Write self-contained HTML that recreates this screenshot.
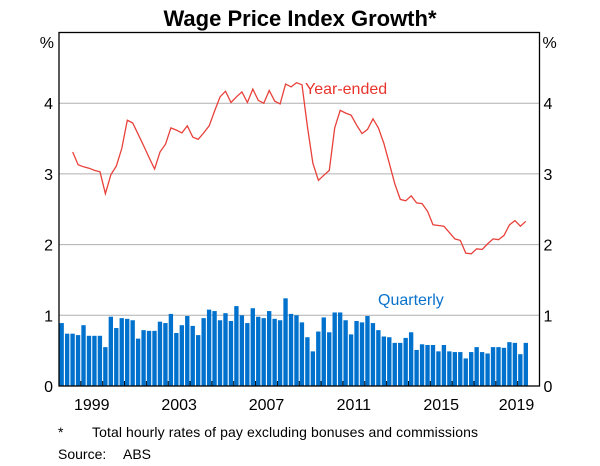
<!DOCTYPE html>
<html><head><meta charset="utf-8"><style>
body{margin:0;background:#fff;}
svg{display:block;font-family:"Liberation Sans",Arial,sans-serif;}
</style></head><body>
<svg id="chart" width="600" height="466" viewBox="0 0 600 466">
<text x="300" y="26" text-anchor="middle" font-size="22" font-weight="bold">Wage Price Index Growth*</text>
<g id="grid"></g><g id="bars"></g><g id="line"></g><g id="axes"></g>
<text x="305" y="94" font-size="16" fill="#e8342c">Year-ended</text>
<text x="378" y="305" font-size="16" fill="#0a72cc">Quarterly</text>
<text x="58" y="437" font-size="14">*</text>
<text x="92" y="437" font-size="14" textLength="386">Total hourly rates of pay excluding bonuses and commissions</text>
<text x="58" y="459" font-size="14">Source:</text>
<text x="123" y="459" font-size="14">ABS</text>
</svg>
<script>
const startYear = 1998;
const yTicks = [0,1,2,3,4];
const xTickLabels = [1999,2003,2007,2011,2015,2019];
const quarterly = [0.89,0.74,0.74,0.72,0.86,0.71,0.71,0.71,0.55,0.98,0.82,0.96,0.95,0.93,0.67,0.79,0.78,0.78,0.91,0.89,1.02,0.75,0.86,0.99,0.85,0.72,0.96,1.08,1.06,0.93,1.03,0.92,1.13,1.00,0.89,1.10,0.98,0.96,1.06,0.95,0.93,1.24,1.02,1.00,0.90,0.69,0.49,0.77,0.97,0.76,1.04,1.04,0.93,0.73,0.92,0.90,0.99,0.89,0.79,0.70,0.69,0.61,0.61,0.68,0.76,0.51,0.59,0.58,0.58,0.49,0.58,0.49,0.48,0.48,0.39,0.48,0.55,0.48,0.46,0.55,0.55,0.54,0.62,0.61,0.45,0.61];
const yearEnded = [null,null,3.31,3.13,3.10,3.08,3.05,3.03,2.72,2.99,3.11,3.36,3.76,3.72,3.56,3.40,3.23,3.07,3.31,3.42,3.65,3.62,3.58,3.68,3.52,3.49,3.58,3.68,3.89,4.09,4.17,4.01,4.09,4.16,4.01,4.20,4.04,4.00,4.18,4.03,3.99,4.27,4.23,4.29,4.26,3.67,3.15,2.91,2.98,3.05,3.65,3.90,3.86,3.83,3.69,3.57,3.63,3.78,3.65,3.43,3.15,2.86,2.64,2.62,2.69,2.59,2.58,2.47,2.28,2.27,2.26,2.17,2.08,2.06,1.88,1.87,1.94,1.93,2.01,2.08,2.07,2.13,2.28,2.34,2.26,2.33];

const L=59,R=539.5,T=32.5,B=386,years=22;
const NS="http://www.w3.org/2000/svg";
const xYear=t=>L+(t-startYear)*(R-L)/years;
const y=v=>B-v*(B-T)/5;
function mk(tag,attrs,parent){const e=document.createElementNS(NS,tag);for(const k in attrs)e.setAttribute(k,attrs[k]);parent.appendChild(e);return e;}
const g=id=>document.getElementById(id);

yTicks.forEach(v=>{
  if(v>0){const gl=mk('line',{x1:L,x2:R,y1:y(v),y2:y(v),stroke:'#b0b0b0','stroke-width':1},g('grid'));
  
  }
  const tl=mk('text',{x:L-6,y:y(v)+6,'text-anchor':'end','font-size':16},g('axes'));tl.textContent=v;
  
  
  const tr=mk('text',{x:R+4,y:y(v)+6,'font-size':16},g('axes'));tr.textContent=v;
  
  
});
const qw=(R-L)/years/4;
quarterly.forEach((v,i)=>{
  const x=xYear(startYear+i/4);
  const r=mk('rect',{x:x+0.5,y:y(v),width:qw-1.1,height:B-y(v),fill:'#0072ce'},g('bars'));
  
  
});
let d='';
yearEnded.forEach((v,i)=>{if(v==null)return;const x=xYear(startYear+i/4)+qw/2;d+=(d?'L':'M')+x.toFixed(1)+','+y(v).toFixed(1);});
const p=mk('path',{d:d,fill:'none',stroke:'#e8413a','stroke-width':1.3},g('line'));


for(let yr=startYear+1;yr<startYear+years;yr++){
  const t=mk('line',{x1:xYear(yr),x2:xYear(yr),y1:B,y2:B-5,stroke:'#000','stroke-width':1},g('axes'));
  
  
}
xTickLabels.forEach(yr=>{
  let cx=xYear(yr+0.5);
  if(cx>R-17) cx=R-23;
  const t=mk('text',{x:cx,y:410,'text-anchor':'middle','font-size':16},g('axes'));t.textContent=yr;
  
  
});
const f=mk('rect',{x:L,y:T,width:R-L,height:B-T,fill:'none',stroke:'#000','stroke-width':1.3},g('axes'));


const pl=mk('text',{x:L-5,y:48,'text-anchor':'end','font-size':16},g('axes'));pl.textContent='%';


const pr=mk('text',{x:R+3,y:48,'font-size':16},g('axes'));pr.textContent='%';


</script>
</body></html>
